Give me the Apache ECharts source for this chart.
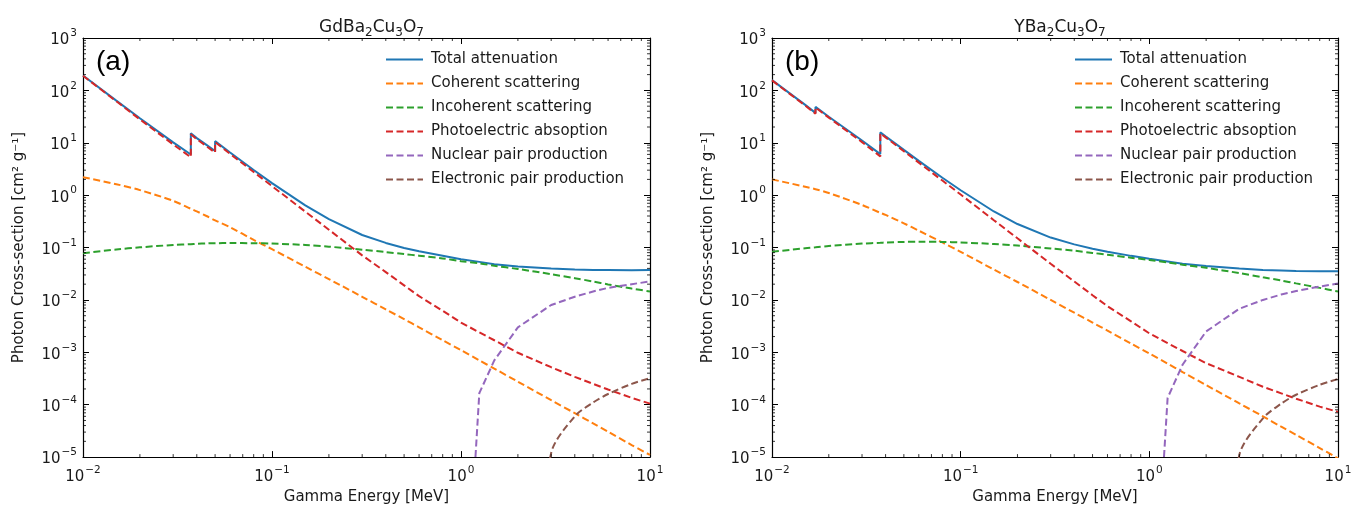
<!DOCTYPE html>
<html>
<head>
<meta charset="utf-8">
<script src="https://cdn.jsdelivr.net/npm/echarts@6/dist/echarts.min.js"></script>
<style>
html,body{margin:0;padding:0;background:#fff;}
#chart{width:1365px;height:510px;}
</style>
</head>
<body>
<div id="chart"></div>
<script>
// ---------- DATA ----------
const titles = ['{n|GdBa}{sub|2}{n|Cu}{sub|3}{n|O}{sub|7}', '{n|YBa}{sub|2}{n|Cu}{sub|3}{n|O}{sub|7}'];
const panelLabels = ['(a)', '(b)'];
const seriesNames = ['Total attenuation', 'Coherent scattering', 'Incoherent scattering',
  'Photoelectric absoption', 'Nuclear pair production', 'Electronic pair production'];

// Panel (a) GdBa2Cu3O7
const energyA = [0.01, 0.015, 0.02, 0.03, 0.0372, 0.0372, 0.04, 0.045, 0.05, 0.05, 0.06, 0.08, 0.1, 0.15, 0.2, 0.3, 0.4, 0.5, 0.6, 0.8, 1, 1.25, 1.5, 2, 3, 4, 5, 6, 8, 10];
const totalA = [192, 63.7, 29.4, 10.2, 5.97, 15.2, 12.3, 9.1, 6.95, 10.75, 6.52, 3.03, 1.70, 0.64, 0.348, 0.1735, 0.1226, 0.0983, 0.0848, 0.0699, 0.0598, 0.0533, 0.0479, 0.0433, 0.0397, 0.038, 0.0374, 0.0372, 0.0369, 0.0374];
const coherentA = [2.2, 1.62, 1.25, 0.78, 0.55, 0.55, 0.49, 0.40, 0.33, 0.33, 0.245, 0.14, 0.093, 0.043, 0.025, 0.0115, 0.0066, 0.0043, 0.003, 0.0017, 0.0011, 0.0007, 0.00049, 0.000275, 0.000122, 0.000069, 0.000044, 0.0000305, 0.000017, 0.000011];
const incoherentA = [0.078, 0.092, 0.101, 0.112, 0.116, 0.116, 0.118, 0.12, 0.121, 0.121, 0.122, 0.121, 0.119, 0.112, 0.104, 0.091, 0.082, 0.075, 0.07, 0.062, 0.055, 0.05, 0.045, 0.039, 0.031, 0.026, 0.0225, 0.0198, 0.0165, 0.0145];
const photoA = [190, 62, 28, 9.3, 5.3, 14.5, 11.7, 8.6, 6.5, 10.3, 6.15, 2.77, 1.49, 0.485, 0.219, 0.071, 0.034, 0.019, 0.0118, 0.0062, 0.0037, 0.0024, 0.0017, 0.00098, 0.00052, 0.00034, 0.00025, 0.000195, 0.000135, 0.000105];
const nuclearEnergy = [1.022, 1.25, 1.5, 2, 3, 4, 5, 6, 8, 10];
const nuclearA = [1e-9, 1.66e-4, 7.0e-4, 3.0e-3, 8.0e-3, 1.15e-2, 1.45e-2, 1.7e-2, 2.0e-2, 2.25e-2];
const electronicEnergy = [2.044, 3, 4, 5, 6, 8, 10];
const electronicA = [1e-9, 1.2e-5, 6.0e-5, 1.1e-4, 1.6e-4, 2.5e-4, 3.2e-4];

// Panel (b) YBa2Cu3O7
const energyB = [0.01, 0.015, 0.017, 0.017, 0.02, 0.03, 0.0375, 0.0375, 0.04, 0.05, 0.06, 0.08, 0.1, 0.15, 0.2, 0.3, 0.4, 0.5, 0.6, 0.8, 1, 1.25, 1.5, 2, 3, 4, 5, 6, 8, 10];
const totalB = [157.1, 52.85, 37.2, 48.4, 31.4, 11.07, 6.08, 15.78, 13.25, 7.32, 4.52, 2.15, 1.24, 0.488, 0.281, 0.155, 0.115, 0.095, 0.083, 0.0694, 0.0612, 0.0542, 0.0491, 0.0444, 0.0398, 0.0373, 0.0365, 0.0358, 0.0353, 0.0354];
const coherentB = [2.0, 1.45, 1.3, 1.3, 1.1, 0.65, 0.46, 0.46, 0.42, 0.29, 0.21, 0.125, 0.083, 0.038, 0.022, 0.0100, 0.0057, 0.0037, 0.0026, 0.00147, 0.00095, 0.00061, 0.00042, 0.000237, 0.000106, 0.00006, 0.000038, 0.0000265, 0.0000149, 0.0000095];
const incoherentB = [0.083, 0.097, 0.101, 0.101, 0.107, 0.119, 0.123, 0.123, 0.125, 0.128, 0.129, 0.128, 0.125, 0.117, 0.109, 0.096, 0.087, 0.079, 0.073, 0.064, 0.058, 0.052, 0.047, 0.041, 0.0325, 0.027, 0.0235, 0.0207, 0.017, 0.0145];
const photoB = [155, 51.3, 35.8, 47, 30.2, 10.3, 5.5, 15.2, 12.7, 6.9, 4.18, 1.9, 1.03, 0.333, 0.15, 0.049, 0.0225, 0.0123, 0.0076, 0.0039, 0.0023, 0.0015, 0.00106, 0.00062, 0.00034, 0.00022, 0.000165, 0.00013, 0.000092, 0.000073];
const nuclearB = [1e-9, 1.35e-4, 5.8e-4, 2.5e-3, 6.8e-3, 1.0e-2, 1.27e-2, 1.48e-2, 1.8e-2, 2.05e-2];
const electronicB = [1e-9, 1.1e-5, 5.5e-5, 1.05e-4, 1.55e-4, 2.4e-4, 3.1e-4];

const xRange = [0.01, 10];
const yRange = [1e-5, 1e3];

// ---------- CHART ----------
const colors = ['#1f77b4', '#ff7f0e', '#2ca02c', '#d62728', '#9467bd', '#8c564b'];
const smoothing = [0, 0.3, 0.3, 0, 0, 0.3];
const FONT = 'DejaVu Sans';
const TXT = '#1a1a1a';
const grids = [
  {left: 83, top: 38, width: 567, height: 421},
  {left: 772, top: 38, width: 566, height: 421}
];

function zip(xs, ys) { return xs.map((x, i) => [x, ys[i]]); }

function sciLabel(v) {
  const e = Math.round(Math.log10(v));
  return '{b|10}{sup|' + (e < 0 ? '\u2212' + (-e) : String(e)) + '}';
}
const labelRich = {
  b: {fontSize: 15, fontFamily: FONT, color: TXT, lineHeight: 20, verticalAlign: 'bottom'},
  sup: {fontSize: 10.5, fontFamily: FONT, color: TXT, lineHeight: 20, verticalAlign: 'top', padding: [0, 0, 0, 1]}
};

function minorTicks(lo, hi) {
  const out = [];
  for (let e = Math.round(Math.log10(lo)); e < Math.round(Math.log10(hi)); e++) {
    for (let m = 2; m <= 9; m++) out.push(m * Math.pow(10, e));
  }
  return out;
}
const minorX = minorTicks(xRange[0], xRange[1]);
const minorY = minorTicks(yRange[0], yRange[1]);

const xAxes = [], yAxes = [], series = [], titleArr = [], legends = [];
const panels = [
  {E: energyA, tot: totalA, coh: coherentA, inc: incoherentA, pe: photoA, nuc: nuclearA, el: electronicA},
  {E: energyB, tot: totalB, coh: coherentB, inc: incoherentB, pe: photoB, nuc: nuclearB, el: electronicB}
];

panels.forEach((p, gi) => {
  const g = grids[gi];
  xAxes.push({
    type: 'log', logBase: 10, gridIndex: gi, min: xRange[0], max: xRange[1], splitNumber: 3,
    position: 'bottom',
    axisLine: {show: true, lineStyle: {color: '#000', width: 1.2}},
    axisTick: {show: true, inside: true, length: 6, lineStyle: {color: '#000', width: 1}},
    splitLine: {show: false},
    axisLabel: {formatter: sciLabel, rich: labelRich, margin: 8},
    name: 'Gamma Energy [MeV]', nameLocation: 'middle', nameGap: 30,
    nameTextStyle: {fontSize: 15, fontFamily: FONT, color: TXT}
  });
  yAxes.push({
    type: 'log', logBase: 10, gridIndex: gi, min: yRange[0], max: yRange[1], splitNumber: 8,
    position: 'left',
    axisLine: {show: true, lineStyle: {color: '#000', width: 1.2}},
    axisTick: {show: true, inside: true, length: 6, lineStyle: {color: '#000', width: 1}},
    splitLine: {show: false},
    axisLabel: {formatter: sciLabel, rich: labelRich, margin: 6},
    name: 'Photon Cross-section [cm\u00B2 g\u207B\u00B9]', nameLocation: 'middle', nameGap: 56,
    nameTextStyle: {fontSize: 15, fontFamily: FONT, color: TXT}
  });
  xAxes.push({
    type: 'log', logBase: 10, gridIndex: gi, min: xRange[0], max: xRange[1], splitNumber: 3,
    position: 'top',
    axisLine: {show: true, lineStyle: {color: '#000', width: 1.2}},
    axisTick: {show: true, inside: true, length: 6, lineStyle: {color: '#000', width: 1}},
    splitLine: {show: false}, axisLabel: {show: false}
  });
  yAxes.push({
    type: 'log', logBase: 10, gridIndex: gi, min: yRange[0], max: yRange[1], splitNumber: 8,
    position: 'right',
    axisLine: {show: true, lineStyle: {color: '#000', width: 1.2}},
    axisTick: {show: true, inside: true, length: 6, lineStyle: {color: '#000', width: 1}},
    splitLine: {show: false}, axisLabel: {show: false}
  });
  const xi = gi * 2, yi = gi * 2;

  const dataSets = [
    zip(p.E, p.tot), zip(p.E, p.coh), zip(p.E, p.inc), zip(p.E, p.pe),
    zip(nuclearEnergy, p.nuc), zip(electronicEnergy, p.el)
  ];
  dataSets.forEach((d, si) => {
    series.push({
      type: 'line', name: seriesNames[si], xAxisIndex: xi, yAxisIndex: yi,
      data: d, showSymbol: false, symbol: 'none', smooth: smoothing[si], clip: true,
      z: si === 0 ? 2 : 3,
      lineStyle: {color: colors[si], width: 2, type: si === 0 ? 'solid' : [7, 3.5]},
      itemStyle: {color: colors[si]},
      emphasis: {disabled: true}
    });
  });

  series.push({
    type: 'custom', xAxisIndex: xi, yAxisIndex: yi, silent: true, z: 5, clip: false,
    data: minorX.map(v => [v, 1]),
    renderItem: function (params, api) {
      const pt = api.coord([api.value(0), api.value(1)]);
      const cs = params.coordSys;
      const yb = cs.y + cs.height, yt = cs.y;
      return {type: 'group', children: [
        {type: 'line', shape: {x1: pt[0], y1: yb, x2: pt[0], y2: yb - 3}, style: {stroke: '#000', lineWidth: 0.8}},
        {type: 'line', shape: {x1: pt[0], y1: yt, x2: pt[0], y2: yt + 3}, style: {stroke: '#000', lineWidth: 0.8}}
      ]};
    }
  });
  series.push({
    type: 'custom', xAxisIndex: xi, yAxisIndex: yi, silent: true, z: 5, clip: false,
    data: minorY.map(v => [1, v]),
    renderItem: function (params, api) {
      const pt = api.coord([api.value(0), api.value(1)]);
      const cs = params.coordSys;
      const xl = cs.x, xr = cs.x + cs.width;
      return {type: 'group', children: [
        {type: 'line', shape: {x1: xl, y1: pt[1], x2: xl + 3, y2: pt[1]}, style: {stroke: '#000', lineWidth: 0.8}},
        {type: 'line', shape: {x1: xr, y1: pt[1], x2: xr - 3, y2: pt[1]}, style: {stroke: '#000', lineWidth: 0.8}}
      ]};
    }
  });

  titleArr.push({
    text: titles[gi], left: g.left + g.width / 2, top: 9, textAlign: 'center',
    textStyle: {fontSize: 17, fontWeight: 'normal', fontFamily: FONT, color: TXT,
      rich: {
        n: {fontSize: 17, fontFamily: FONT, color: TXT, lineHeight: 22, verticalAlign: 'bottom'},
        sub: {fontSize: 12, fontFamily: FONT, color: TXT, lineHeight: 22, verticalAlign: 'bottom', padding: [0, 0, -3, 0]}
      }}
  });
  titleArr.push({
    text: panelLabels[gi], left: g.left + 8, top: 43,
    textStyle: {fontSize: 28, fontWeight: 'normal', fontFamily: 'Liberation Sans', color: '#000'}
  });
  legends.push({
    data: seriesNames, orient: 'vertical', left: g.left + 297, top: 47,
    itemWidth: 37, itemHeight: 14, itemGap: 9,
    selectedMode: false,
    itemStyle: {opacity: 0},
    textStyle: {fontSize: 15, fontFamily: FONT, color: TXT, padding: [0, 0, 0, 3]}
  });
});

const chart = echarts.init(document.getElementById('chart'), null, {renderer: 'canvas'});
chart.setOption({
  animation: false,
  backgroundColor: '#fff',
  title: titleArr,
  legend: legends,
  grid: grids.map(g => Object.assign({containLabel: false}, g)),
  xAxis: xAxes,
  yAxis: yAxes,
  series: series
});
</script>
</body>
</html>
